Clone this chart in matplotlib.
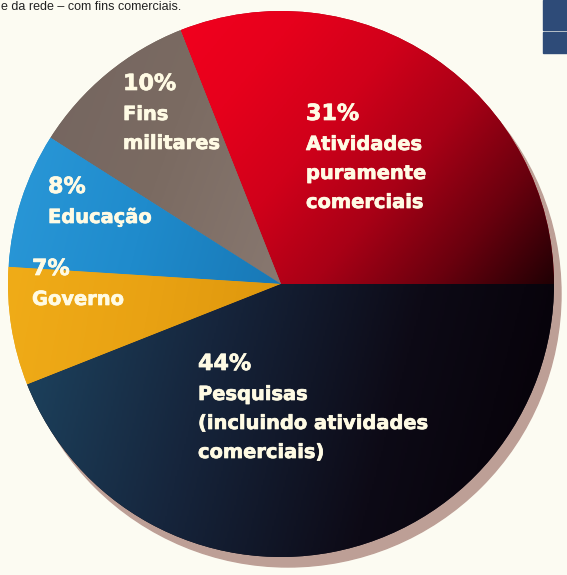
import numpy as np
import matplotlib.pyplot as plt
import matplotlib.patheffects as pe
from matplotlib.patches import Circle, Rectangle
from matplotlib.colors import LinearSegmentedColormap

W, H = 567, 575

# shares of the pie, counter-clockwise from 3 o'clock
shares = [31, 10, 8, 7, 44]
pct_labels = ['31%', '10%', '8%', '7%', '44%']
name_lines = [
    ['Atividades', 'puramente', 'comerciais'],
    ['Fins', 'militares'],
    ['Educação'],
    ['Governo'],
    ['Pesquisas', '(incluindo atividades', 'comerciais)'],
]

# gradient stops and direction (deg) for every slice
slice_colors = [
    ['#f2001e', '#e6001c', '#d0001a', '#a80016', '#6a000e', '#200004'],
    ['#746560', '#7b6b62', '#887870'],
    ['#2a98d8', '#1f8bcc', '#1878b6'],
    ['#f0ac18', '#e9a213', '#dd960c'],
    ['#1d4460', '#16253c', '#0d0a16', '#050006'],
]
slice_dirs = [-40, -20, -15, -10, -15]

# text anchor (left x, baseline y) in pixels from top-left
pct_pos = [(306, 120), (123, 90), (48, 193), (32, 275), (198, 370)]
line_gap = 29

cx, cy, r = 281, H - 284, 273
ink = '#fffbe4'
thick = [pe.withStroke(linewidth=0.5, foreground=ink)]

fig = plt.figure(figsize=(W / 100, H / 100), dpi=100)
fig.patch.set_facecolor('#fcfbf2')
ax = fig.add_axes([0, 0, 1, 1])
ax.set_facecolor('#fcfbf2')

# drop shadow
ax.add_patch(Circle((cx + 7, cy - 10), r, color='#bd9f96', zorder=1))

wedges, _ = ax.pie(shares, startangle=0, counterclock=True, center=(cx, cy),
                   radius=r, wedgeprops=dict(linewidth=0, zorder=2))

for w, cols, ang in zip(wedges, slice_colors, slice_dirs):
    w.set_facecolor(cols[len(cols) // 2])
    ext = w.get_path().get_extents()
    x0, y0, x1, y1 = ext.x0, ext.y0, ext.x1, ext.y1
    X, Y = np.meshgrid(np.linspace(x0, x1, 300), np.linspace(y0, y1, 300))
    a = np.deg2rad(ang)
    p = X * np.cos(a) + Y * np.sin(a)
    t = (p - p.min()) / (p.max() - p.min())
    cmap = LinearSegmentedColormap.from_list('s', cols)
    im = ax.imshow(cmap(t), extent=(x0, x1, y0, y1), origin='lower',
                   interpolation='bilinear', zorder=3, aspect='auto')
    im.set_clip_path(w)

for (px, py), pct, lines in zip(pct_pos, pct_labels, name_lines):
    ax.text(px, H - py, pct, color=ink, fontsize=16, fontweight='bold',
            family='DejaVu Sans', va='baseline', ha='left', zorder=5,
            path_effects=thick)
    for i, ln in enumerate(lines):
        ax.text(px, H - py - 30 - i * line_gap, ln, color=ink, fontsize=14,
                fontweight='bold', family='DejaVu Sans', va='baseline',
                ha='left', zorder=5, path_effects=thick)

# page furniture around the chart
ax.text(1, H - 10, 'e da rede – com fins comerciais.', fontsize=9,
        family='Liberation Sans', color='#222222', va='baseline', zorder=5)
ax.add_patch(Rectangle((543, H - 30), 30, 30, color='#2e4b78', zorder=5))
ax.add_patch(Rectangle((543, H - 53), 30, 21, color='#2e4b78', zorder=5))

ax.set_xlim(0, W)
ax.set_ylim(0, H)
ax.set_aspect('auto')
ax.axis('off')

fig.savefig('out.png', dpi=100, facecolor=fig.get_facecolor())
